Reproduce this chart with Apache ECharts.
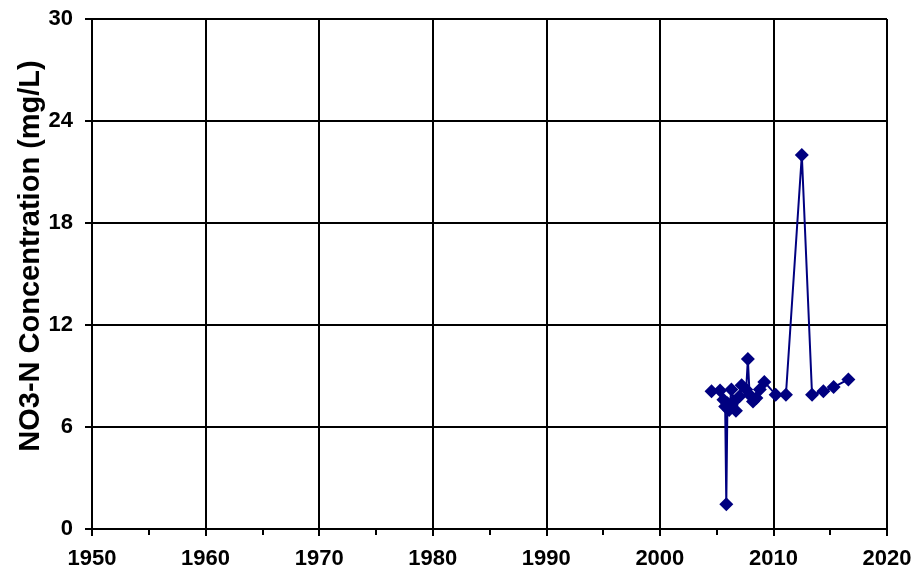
<!DOCTYPE html>
<html>
<head>
<meta charset="utf-8">
<script src="https://cdn.jsdelivr.net/npm/echarts@6/dist/echarts.min.js"></script>
<style>
  html, body { margin: 0; padding: 0; background: #fff; }
  #chart { width: 916px; height: 571px; }
</style>
</head>
<body>
<div id="chart"></div>
<script>
// sample dates (decimal years) and NO3-N values (mg/L)
var years = [2004.55, 2005.3, 2005.6, 2005.75, 2005.85, 2005.95, 2006.1, 2006.3, 2006.5, 2006.7,
  2007.0, 2007.2, 2007.6, 2007.75, 2007.9, 2008.2, 2008.5, 2008.8, 2009.2, 2010.2,
  2011.1, 2012.5, 2013.4, 2014.4, 2015.3, 2016.6];
var no3 = [8.1, 8.15, 7.6, 7.2, 1.45, 7.4, 7.0, 8.2, 7.5, 6.95,
  7.8, 8.45, 8.2, 10.0, 7.9, 7.5, 7.7, 8.2, 8.65, 7.9,
  7.9, 22.0, 7.9, 8.1, 8.35, 8.8];
var yTitle = 'NO3-N Concentration (mg/L)';

var points = [];
for (var i = 0; i < years.length; i++) {
  points.push([years[i], no3[i]]);
}

var chart = echarts.init(document.getElementById('chart'));
var font = 'Arial';

chart.setOption({
  animation: false,
  grid: { left: 92, right: 29, top: 19, bottom: 42 },
  xAxis: {
    type: 'value',
    min: 1950, max: 2020, interval: 10,
    axisLine: { lineStyle: { color: '#000', width: 2 } },
    axisTick: { length: 7, lineStyle: { color: '#000', width: 2 } },
    minorTick: { show: true, splitNumber: 2, length: 6, lineStyle: { color: '#000', width: 2 } },
    axisLabel: {
      fontSize: 22, fontWeight: 'bold', fontFamily: font, color: '#000', margin: 19,
      formatter: function (v) { return String(v); }
    },
    splitLine: { show: true, lineStyle: { color: '#000', width: 2 } }
  },
  yAxis: {
    type: 'value',
    min: 0, max: 30, interval: 6,
    axisLine: { show: true, lineStyle: { color: '#000', width: 2 } },
    axisTick: { show: true, length: 7, lineStyle: { color: '#000', width: 2 } },
    axisLabel: { fontSize: 22, fontWeight: 'bold', fontFamily: font, color: '#000', margin: 19 },
    splitLine: { show: true, lineStyle: { color: '#000', width: 2 } }
  },
  graphic: [{
    type: 'text',
    x: 31, y: 256,
    rotation: Math.PI / 2,
    style: {
      text: yTitle,
      font: 'bold 29px Arial',
      fill: '#000',
      align: 'center',
      verticalAlign: 'middle'
    }
  }],
  series: [{
    type: 'line',
    data: points,
    symbol: 'diamond',
    symbolSize: 14,
    itemStyle: { color: '#000080' },
    lineStyle: { color: '#000080', width: 2 }
  }]
});
</script>
</body>
</html>
